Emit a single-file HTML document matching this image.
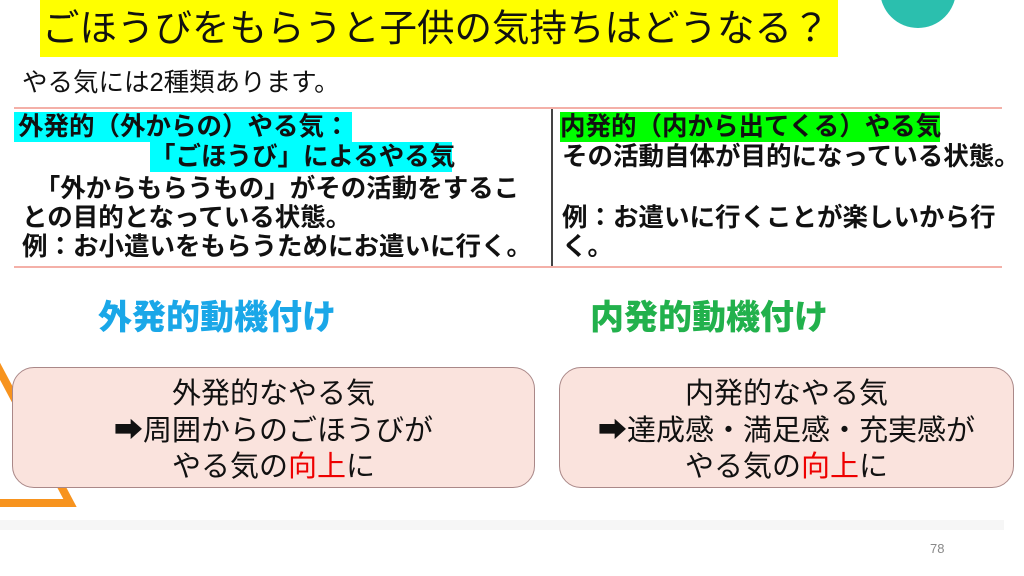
<!DOCTYPE html>
<html><head><meta charset="utf-8"><style>
body{margin:0;width:1024px;height:576px;overflow:hidden;background:#fff;position:relative;font-family:"Liberation Sans","Noto Sans CJK JP",sans-serif;color:#111}
.a{position:absolute;white-space:nowrap}
.t{font-size:25.5px;font-weight:bold;line-height:29px}
.box{position:absolute;background:#fae3dd;border:1.5px solid #a88;border-radius:22px;text-align:center;font-size:29px;line-height:36.5px;padding-top:8px;box-sizing:border-box}
.r{color:#e00}
</style></head><body>
<div class="a" style="left:40px;top:0;width:798px;height:57px;background:#ffff00"></div>
<div class="a" style="left:42px;top:3px;font-size:37.5px;line-height:50px;">ごほうびをもらうと子供の気持ちはどうなる？</div>
<div class="a" style="left:880px;top:-48px;width:76px;height:76px;border-radius:50%;background:#2bbfae"></div>
<div class="a" style="left:22px;top:67px;font-size:25.5px;line-height:32px;">やる気には2種類あります。</div>
<div class="a" style="left:14px;top:107px;width:988px;height:2px;background:#f4b0a8"></div>
<div class="a" style="left:14px;top:266px;width:988px;height:2px;background:#f4b0a8"></div>
<div class="a" style="left:551px;top:109px;width:1.5px;height:157px;background:#444"></div>
<div class="a" style="left:14px;top:112px;width:338px;height:30px;background:#00ffff"></div>
<div class="a" style="left:150px;top:142px;width:302px;height:30px;background:#00ffff"></div>
<div class="a" style="left:560px;top:112px;width:380px;height:30px;background:#00ff00"></div>
<div class="a t" style="left:18px;top:113px">外発的（外からの）やる気：</div>
<div class="a t" style="left:150px;top:143px">「ごほうび」によるやる気</div>
<div class="a t" style="left:22px;top:175px">　「外からもらうもの」がその活動をするこ</div>
<div class="a t" style="left:22px;top:204px">との目的となっている状態。</div>
<div class="a t" style="left:22px;top:233px">例：お小遣いをもらうためにお遣いに行く。</div>
<div class="a t" style="left:560px;top:113px">内発的（内から出てくる）やる気</div>
<div class="a t" style="left:562px;top:143px">その活動自体が目的になっている状態。</div>
<div class="a t" style="left:562px;top:204px">例：お遣いに行くことが楽しいから行</div>
<div class="a t" style="left:562px;top:233px">く。</div>
<div class="a" style="left:98px;top:297px;font-size:34px;font-weight:900;color:#1aa7e8;line-height:42px">外発的動機付け</div>
<div class="a" style="left:590px;top:297px;font-size:34px;font-weight:900;color:#22b14c;line-height:42px">内発的動機付け</div>
<svg class="a" style="left:0;top:0" width="1024" height="576"><polyline points="-6,360 70,503 -6,503" fill="none" stroke="#f7931e" stroke-width="8"/></svg>
<div class="box" style="left:12px;top:367px;width:523px;height:121px">外発的なやる気<br>➡周囲からのごほうびが<br>やる気の<span class="r">向上</span>に</div>
<div class="box" style="left:559px;top:367px;width:455px;height:121px">内発的なやる気<br>➡達成感・満足感・充実感が<br>やる気の<span class="r">向上</span>に</div>
<div class="a" style="left:0;top:520px;width:1004px;height:10px;background:#f6f6f6"></div>
<div class="a" style="left:930px;top:541px;font-size:13px;color:#888">78</div>
</body></html>
